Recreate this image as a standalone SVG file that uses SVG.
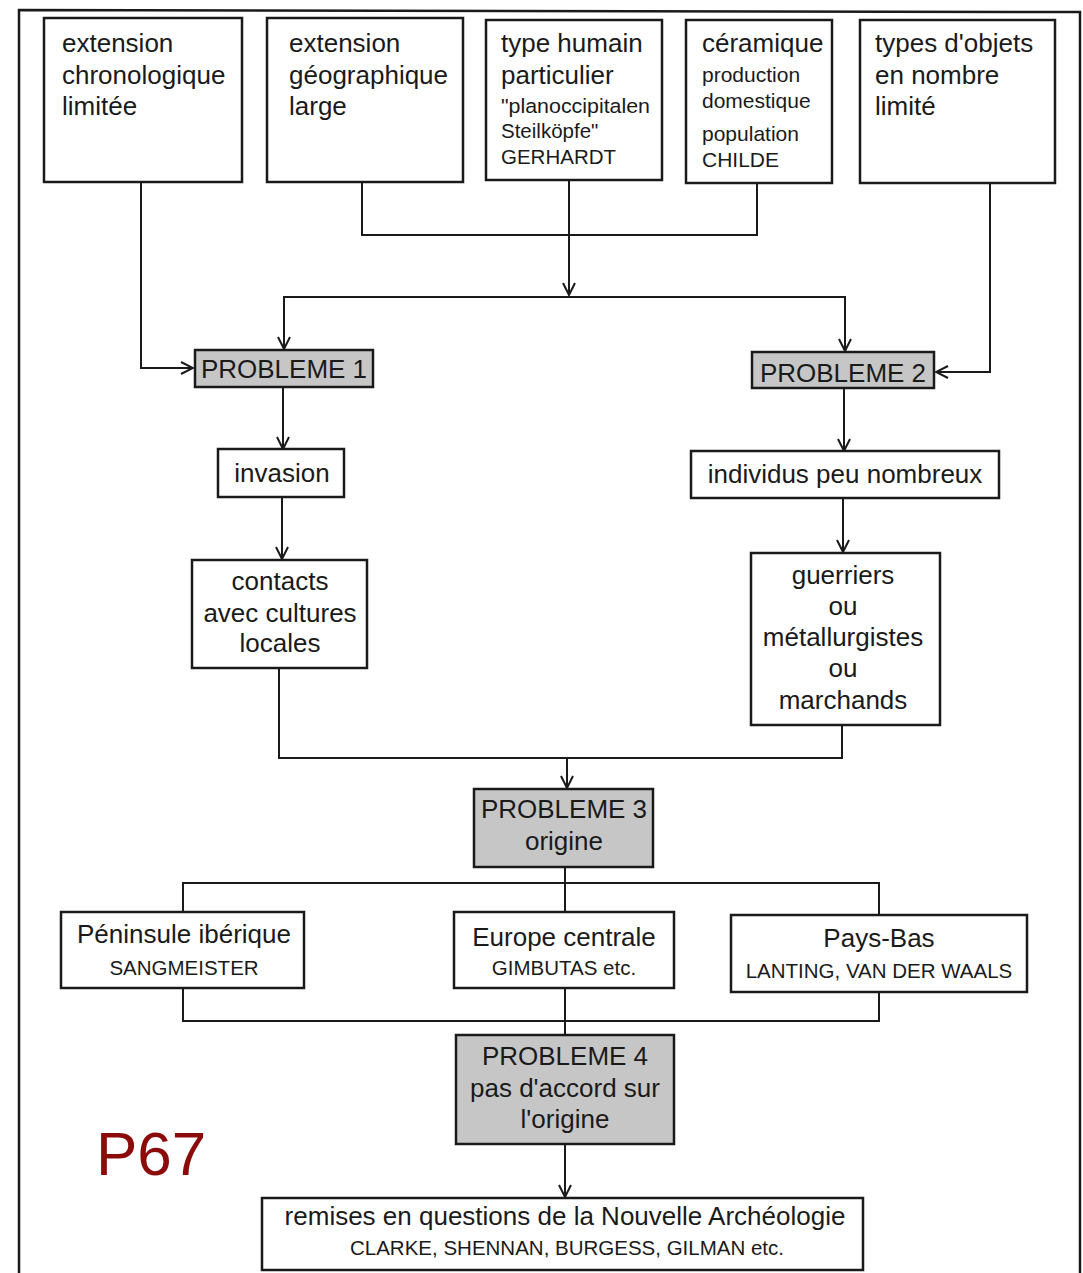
<svg xmlns="http://www.w3.org/2000/svg" width="1083" height="1273" viewBox="0 0 1083 1273">
<defs>
<style>
.box{fill:#fff;stroke:#1a1a1a;stroke-width:2.5}
.pb{fill:#c6c6c6;stroke:#1a1a1a;stroke-width:2.5}
.ln{fill:none;stroke:#1a1a1a;stroke-width:2}
.t{font-family:"Liberation Sans",Arial,sans-serif;font-size:26px;fill:#1a1a1a}
.s{font-family:"Liberation Sans",Arial,sans-serif;font-size:20.5px;fill:#1a1a1a}
.c{text-anchor:middle}
</style>
<marker id="ar" markerUnits="userSpaceOnUse" viewBox="0 0 14 14" refX="13" refY="7" markerWidth="14" markerHeight="14" orient="auto">
<path d="M1,1 L13,7 L1,13" fill="none" stroke="#1a1a1a" stroke-width="2"/>
</marker>
</defs>
<rect width="1083" height="1273" fill="#fff"/>
<path d="M19,1273 L19,10 L1080,12 L1080,1273" fill="none" stroke="#1a1a1a" stroke-width="2.5"/>

<g id="connectors">
<path class="ln" d="M141,182 L141,368 L193,368" marker-end="url(#ar)"/>
<path class="ln" d="M362,182 L362,235 L757,235 L757,183"/>
<path class="ln" d="M569,180 L569,295" marker-end="url(#ar)"/>
<path class="ln" d="M284,350 L284,297 L845,297 L845,351" marker-end="url(#ar)"/>
<path class="ln" d="M284,297 L284,349" marker-end="url(#ar)"/>
<path class="ln" d="M990,183 L990,372 L936,372" marker-end="url(#ar)"/>
<path class="ln" d="M283,387 L283,449" marker-end="url(#ar)"/>
<path class="ln" d="M282,497 L282,559" marker-end="url(#ar)"/>
<path class="ln" d="M844,388 L844,451" marker-end="url(#ar)"/>
<path class="ln" d="M843,498 L843,552" marker-end="url(#ar)"/>
<path class="ln" d="M279,668 L279,758 L842,758 L842,725"/>
<path class="ln" d="M567,758 L567,788" marker-end="url(#ar)"/>
<path class="ln" d="M565,867 L565,912"/>
<path class="ln" d="M183,912 L183,883 L879,883 L879,915"/>
<path class="ln" d="M183,988 L183,1021 L879,1021 L879,992"/>
<path class="ln" d="M565,988 L565,1035"/>
<path class="ln" d="M565,1144 L565,1197" marker-end="url(#ar)"/>
</g>

<g id="n1">
<rect class="box" x="44" y="18" width="198" height="164"/>
<text class="t" x="62" y="52">extension</text>
<text class="t" x="62" y="84">chronologique</text>
<text class="t" x="62" y="115">limitée</text>
</g>
<g id="n2">
<rect class="box" x="267" y="18" width="196" height="164"/>
<text class="t" x="289" y="52">extension</text>
<text class="t" x="289" y="84">géographique</text>
<text class="t" x="289" y="115">large</text>
</g>
<g id="n3">
<rect class="box" x="486" y="20" width="176" height="160"/>
<text class="t" x="501" y="52">type humain</text>
<text class="t" x="501" y="84">particulier</text>
<text class="s" x="501" y="113" textLength="149" lengthAdjust="spacingAndGlyphs">"planoccipitalen</text>
<text class="s" x="501" y="138">Steilköpfe"</text>
<text class="s" x="501" y="164">GERHARDT</text>
</g>
<g id="n4">
<rect class="box" x="686" y="20" width="146" height="163"/>
<text class="t" x="702" y="52">céramique</text>
<text class="s" x="702" y="82" style="font-size:21px">production</text>
<text class="s" x="702" y="108" style="font-size:21px">domestique</text>
<text class="s" x="702" y="141" style="font-size:21px">population</text>
<text class="s" x="702" y="167" style="font-size:21px">CHILDE</text>
</g>
<g id="n5">
<rect class="box" x="860" y="20" width="195" height="163"/>
<text class="t" x="875" y="52">types d'objets</text>
<text class="t" x="875" y="84">en nombre</text>
<text class="t" x="875" y="115">limité</text>
</g>

<g id="p1">
<rect class="pb" x="195" y="350" width="178" height="37"/>
<text class="t c" x="284" y="378">PROBLEME 1</text>
</g>
<g id="p2">
<rect class="pb" x="752" y="352" width="182" height="36"/>
<text class="t c" x="843" y="382">PROBLEME 2</text>
</g>
<g id="invasion">
<rect class="box" x="218" y="449" width="126" height="48"/>
<text class="t c" x="282" y="482">invasion</text>
</g>
<g id="contacts">
<rect class="box" x="192" y="560" width="175" height="108"/>
<text class="t c" x="280" y="590">contacts</text>
<text class="t c" x="280" y="622">avec cultures</text>
<text class="t c" x="280" y="652">locales</text>
</g>
<g id="individus">
<rect class="box" x="691" y="451" width="308" height="47"/>
<text class="t c" x="845" y="483">individus peu nombreux</text>
</g>
<g id="guerriers">
<rect class="box" x="751" y="553" width="189" height="172"/>
<text class="t c" x="843" y="584">guerriers</text>
<text class="t c" x="843" y="615">ou</text>
<text class="t c" x="843" y="646">métallurgistes</text>
<text class="t c" x="843" y="677">ou</text>
<text class="t c" x="843" y="709">marchands</text>
</g>
<g id="p3">
<rect class="pb" x="474" y="789" width="179" height="78"/>
<text class="t c" x="564" y="818">PROBLEME 3</text>
<text class="t c" x="564" y="850">origine</text>
</g>
<g id="iberique">
<rect class="box" x="61" y="912" width="243" height="76"/>
<text class="t c" x="184" y="943">Péninsule ibérique</text>
<text class="s c" x="184" y="975">SANGMEISTER</text>
</g>
<g id="europe">
<rect class="box" x="454" y="912" width="220" height="76"/>
<text class="t c" x="564" y="946">Europe centrale</text>
<text class="s c" x="564" y="975">GIMBUTAS etc.</text>
</g>
<g id="paysbas">
<rect class="box" x="731" y="915" width="296" height="77"/>
<text class="t c" x="879" y="947">Pays-Bas</text>
<text class="s c" x="879" y="978">LANTING, VAN DER WAALS</text>
</g>
<g id="p4">
<rect class="pb" x="456" y="1035" width="218" height="109"/>
<text class="t c" x="565" y="1065">PROBLEME 4</text>
<text class="t c" x="565" y="1097">pas d'accord sur</text>
<text class="t c" x="565" y="1128">l'origine</text>
</g>
<g id="final">
<rect class="box" x="262" y="1198" width="601" height="72"/>
<text class="t c" x="565" y="1225">remises en questions de la Nouvelle Archéologie</text>
<text class="s c" x="567" y="1255">CLARKE, SHENNAN, BURGESS, GILMAN etc.</text>
</g>
<text x="96" y="1175" style="font-family:'Liberation Sans',Arial,sans-serif;font-size:62px;fill:#8b0a0a">P67</text>
</svg>
